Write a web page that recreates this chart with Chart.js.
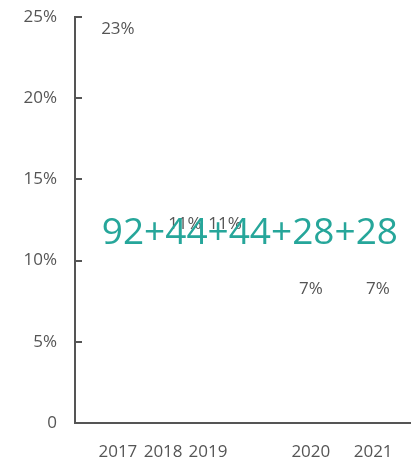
<!DOCTYPE html>
<html>
<head>
<meta charset="utf-8">
<script src="https://cdn.jsdelivr.net/npm/chart.js@4"></script>
<style>
html,body{margin:0;padding:0;background:#fff;}
#wrap{width:411px;height:459px;position:relative;}
</style>
</head>
<body>
<div id="wrap"><canvas id="c" width="411" height="459"></canvas></div>
<script>
// ---- data ----
const years = ['2017', '2018', '2019', '2020', '2021'];
const yearPos = [12.8, 26.3, 39.7, 70.4, 89.0];
const values = [23, 11, 11, 7, 7];
const valuePos = [12.8, 32.8, 44.8, 70.4, 90.4];
const yTicks = [0, 5, 10, 15, 20, 25];
const centerText = '92+44+44+28+28';
const centerPos = {x: 52.2, y: 11.7};

const GREY = '#555555';
const TEAL = '#26a69a';
const FONT = '"Open Sans", sans-serif';

const labelPlugin = {
  id: 'labels',
  afterDraw(chart) {
    const ctx = chart.ctx;
    const xs = chart.scales.x, ys = chart.scales.y;
    const area = chart.chartArea;
    ctx.save();
    ctx.strokeStyle = GREY;
    ctx.lineWidth = 2;
    yTicks.forEach(v => {
      if (v === 0) return;
      const py = Math.round(ys.getPixelForValue(v));
      ctx.beginPath();
      ctx.moveTo(area.left, py);
      ctx.lineTo(area.left + 7, py);
      ctx.stroke();
    });
    ctx.fillStyle = GREY;
    ctx.font = '17px ' + FONT;
    ctx.textAlign = 'center';
    ctx.textBaseline = 'middle';
    chart.getDatasetMeta(0).data.forEach((pt, i) => {
      ctx.fillText(values[i] + '%', pt.x, pt.y - 20);
    });
    ctx.fillStyle = TEAL;
    ctx.font = '37px ' + FONT;
    ctx.fillText(centerText, xs.getPixelForValue(centerPos.x), ys.getPixelForValue(centerPos.y));
    ctx.restore();
  }
};

new Chart(document.getElementById('c'), {
  type: 'scatter',
  data: {
    datasets: [{
      data: values.map((v, i) => ({x: valuePos[i], y: v})),
      pointRadius: 0,
      pointHoverRadius: 0
    }]
  },
  options: {
    responsive: false,
    animation: false,
    events: [],
    layout: {padding: {top: 17, right: 1, left: 0, bottom: 0}},
    plugins: {legend: {display: false}, tooltip: {enabled: false}},
    scales: {
      x: {
        type: 'linear',
        min: 0, max: 100,
        afterBuildTicks(scale) { scale.ticks = yearPos.map(v => ({value: v})); },
        afterFit(scale) { scale.height = 36; scale.paddingLeft = 0; scale.paddingRight = 0; },
        grid: {display: false, drawTicks: false},
        border: {display: true, color: GREY, width: 2},
        ticks: {
          autoSkip: false, maxRotation: 0, padding: 19,
          color: GREY, font: {family: FONT, size: 17},
          callback: (v) => { const i = yearPos.indexOf(v); return i >= 0 ? years[i] : ''; }
        }
      },
      y: {
        min: 0, max: 25,
        afterBuildTicks(scale) { scale.ticks = yTicks.map(v => ({value: v})); },
        afterFit(scale) { scale.width = 75; scale.paddingTop = 0; scale.paddingBottom = 0; },
        grid: {display: false, drawTicks: false},
        border: {display: true, color: GREY, width: 2},
        ticks: {
          padding: 18, color: GREY, font: {family: FONT, size: 17},
          callback: (v) => v === 0 ? '0' : v + '%'
        }
      }
    }
  },
  plugins: [labelPlugin]
});
</script>
</body>
</html>
